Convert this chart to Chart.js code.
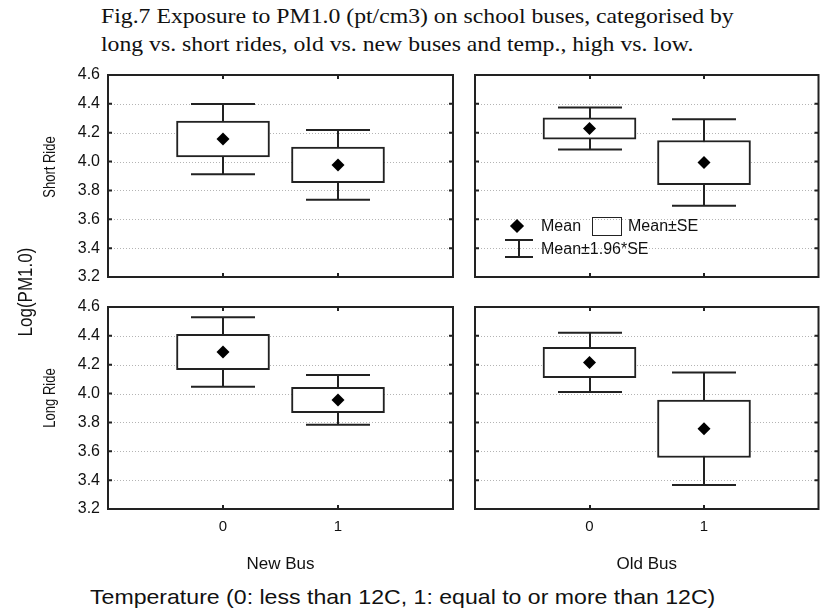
<!DOCTYPE html>
<html lang="en">
<head>
<meta charset="UTF-8">
<script src="https://cdn.jsdelivr.net/npm/chart.js"></script>
<title>Fig.7 PM1.0 on school buses</title>
<style>
  body { margin: 0; background: #fff; }
  #page { position: relative; width: 825px; height: 609px; overflow: hidden; font-family: Arial, "Liberation Sans", sans-serif; color: #111; }
  canvas { position: absolute; }
  .txt { position: absolute; white-space: nowrap; line-height: 1; }
  .title { font-family: "Times New Roman", "Liberation Serif", serif; font-size: 21px; left: 101px; transform: scaleX(1.13); transform-origin: 0 0; }
  .rot { transform: translate(-50%, -50%) rotate(-90deg) scaleY(1.2); }
  .mid { transform: translateY(-50%); }
</style>
</head>
<body>
<div id="page">
  <div class="txt title" style="top:6px;">Fig.7 Exposure to PM1.0 (pt/cm3) on school buses, categorised by</div>
  <div class="txt title" style="top:34px;">long vs. short rides, old vs. new buses and temp., high vs. low.</div>

  <canvas id="c1" width="463" height="242" style="left:0; top:55px;"></canvas>
  <canvas id="c2" width="362" height="242" style="left:463px; top:55px;"></canvas>
  <canvas id="c3" width="463" height="288" style="left:0; top:287px;"></canvas>
  <canvas id="c4" width="362" height="288" style="left:463px; top:287px;"></canvas>

  <div class="txt rot" style="left:25px; top:292px; font-size:17px;">Log(PM1.0)</div>
  <div class="txt rot" style="left:50px; top:167px; font-size:13px;">Short Ride</div>
  <div class="txt rot" style="left:50px; top:398px; font-size:13px;">Long Ride</div>
  <div class="txt" style="left:90px; top:586px; font-size:21px; transform:scaleX(1.1); transform-origin:0 0;">Temperature (0: less than 12C, 1: equal to or more than 12C)</div>

  <!-- legend in the top right panel -->
  <div style="position:absolute; left:512px; top:221px; width:10px; height:10px; background:#000; transform:rotate(45deg);"></div>
  <div class="txt mid" style="left:541px; top:226px; font-size:16px;">Mean</div>
  <div style="position:absolute; left:592px; top:217px; width:28px; height:17px; border:1.5px solid #222;"></div>
  <div class="txt mid" style="left:628px; top:226px; font-size:16px;">Mean±SE</div>
  <div style="position:absolute; left:505px; top:239px; width:28px; height:2px; background:#222;"></div>
  <div style="position:absolute; left:518px; top:239px; width:2px; height:19px; background:#222;"></div>
  <div style="position:absolute; left:505px; top:256px; width:28px; height:2px; background:#222;"></div>
  <div class="txt mid" style="left:541px; top:249px; font-size:16px;">Mean±1.96*SE</div>
</div>
<script>
// temperature groups (0: < 12C, 1: >= 12C)
const temps = [0, 1];
const yTicks = [3.2, 3.4, 3.6, 3.8, 4.0, 4.2, 4.4, 4.6];

// log(PM1.0) mean and standard error per group
const newShortMean = [4.156, 3.977];
const newShortSE = [0.124, 0.123];
const oldShortMean = [4.229, 3.993];
const oldShortSE = [0.074, 0.153];
const newLongMean = [4.288, 3.956];
const newLongSE = [0.123, 0.088];
const oldLongMean = [4.216, 3.756];
const oldLongSE = [0.105, 0.199];

const FONT = 'Arial, "Liberation Sans", sans-serif';
const INK = '#222';

// frame, dotted grid, inward ticks and the 1.96*SE whiskers
const panelPlugin = {
    id: 'panel',
    beforeDatasetsDraw(chart) {
        const c = chart.ctx;
        const a = chart.chartArea;
        const xs = chart.scales.x, ys = chart.scales.y;
        const o = chart.options.plugins.panel;
        c.save();
        // grid
        c.strokeStyle = '#b4b4b4';
        c.lineWidth = 1;
        c.setLineDash([1, 2]);
        yTicks.forEach(v => {
            if (v <= 3.2 || v >= 4.6) return;
            const y = Math.round(ys.getPixelForValue(v)) + 0.5;
            c.beginPath(); c.moveTo(a.left, y); c.lineTo(a.right, y); c.stroke();
        });
        c.setLineDash([]);
        // whiskers
        c.strokeStyle = INK;
        c.lineWidth = 2;
        temps.forEach((t, i) => {
            const m = o.means[i], se = o.ses[i];
            const x = Math.round(xs.getPixelForValue(t));
            const hi = ys.getPixelForValue(m + 1.96 * se);
            const lo = ys.getPixelForValue(m - 1.96 * se);
            const cap = 32;
            c.beginPath();
            c.moveTo(x, hi); c.lineTo(x, lo);
            c.moveTo(x - cap, hi); c.lineTo(x + cap, hi);
            c.moveTo(x - cap, lo); c.lineTo(x + cap, lo);
            c.stroke();
        });
        c.restore();
    },
    afterDatasetsDraw(chart) {
        const c = chart.ctx;
        const a = chart.chartArea;
        const xs = chart.scales.x, ys = chart.scales.y;
        c.save();
        c.strokeStyle = INK;
        c.lineWidth = 2;
        c.strokeRect(a.left, a.top, a.right - a.left, a.bottom - a.top);
        c.beginPath();
        const tl = 4;
        yTicks.forEach(v => {
            const y = ys.getPixelForValue(v);
            c.moveTo(a.left, y); c.lineTo(a.left + tl, y);
            c.moveTo(a.right, y); c.lineTo(a.right - tl, y);
        });
        temps.forEach(t => {
            const x = Math.round(xs.getPixelForValue(t));
            c.moveTo(x, a.top); c.lineTo(x, a.top + tl);
            c.moveTo(x, a.bottom); c.lineTo(x, a.bottom - tl);
        });
        c.stroke();
        c.restore();
    }
};

function makePanel(id, means, ses, opt) {
    const boxes = temps.map((t, i) => ({ x: t, y: [means[i] - ses[i], means[i] + ses[i]] }));
    const pts = temps.map((t, i) => ({ x: t, y: means[i] }));
    return new Chart(document.getElementById(id), {
        type: 'bar',
        data: {
            datasets: [{
                type: 'scatter',
                data: pts,
                pointStyle: 'rectRot',
                pointRadius: 6.5,
                pointHoverRadius: 6.5,
                backgroundColor: '#000',
                borderColor: '#000',
                borderWidth: 0,
                order: 0
            }, {
                type: 'bar',
                data: boxes,
                backgroundColor: '#fff',
                borderColor: INK,
                borderWidth: 2,
                borderSkipped: false,
                barThickness: 93,
                order: 1
            }]
        },
        plugins: [panelPlugin],
        options: {
            responsive: false,
            animation: false,
            events: [],
            layout: { padding: opt.padding },
            plugins: {
                legend: { display: false },
                tooltip: { enabled: false },
                panel: { means: means, ses: ses }
            },
            scales: {
                x: {
                    type: 'linear',
                    min: -1,
                    max: 2,
                    offset: false,
                    display: opt.showX,
                    afterBuildTicks: s => { s.ticks = temps.map(v => ({ value: v })); },
                    afterFit: s => { if (opt.showX) s.height = 66; },
                    grid: { display: false, drawTicks: false, offset: false },
                    border: { display: false },
                    ticks: { padding: 9, autoSkip: false, color: '#111', font: { family: FONT, size: 15 }, callback: v => String(v) },
                    title: { display: opt.showX, text: opt.xTitle, color: '#111', font: { family: FONT, size: 17 }, padding: 0 }
                },
                y: {
                    type: 'linear',
                    min: 3.2,
                    max: 4.6,
                    display: opt.showY,
                    afterBuildTicks: s => { s.ticks = yTicks.map(v => ({ value: v })); },
                    afterFit: s => { if (opt.showY) s.width = 108; },
                    grid: { display: false, drawTicks: false },
                    border: { display: false },
                    ticks: { padding: 8, autoSkip: false, color: '#111', font: { family: FONT, size: 16 }, callback: v => v.toFixed(1) }
                }
            }
        }
    });
}

makePanel('c1', newShortMean, newShortSE, { showX: false, showY: true, xTitle: '', padding: { top: 20, right: 10, bottom: 20, left: 0 } });
makePanel('c2', oldShortMean, oldShortSE, { showX: false, showY: false, xTitle: '', padding: { top: 20, right: 5, bottom: 20, left: 12 } });
makePanel('c3', newLongMean, newLongSE, { showX: true, showY: true, xTitle: 'New Bus', padding: { top: 20, right: 10, bottom: 0, left: 0 } });
makePanel('c4', oldLongMean, oldLongSE, { showX: true, showY: false, xTitle: 'Old Bus', padding: { top: 20, right: 5, bottom: 0, left: 12 } });
</script>
</body>
</html>
